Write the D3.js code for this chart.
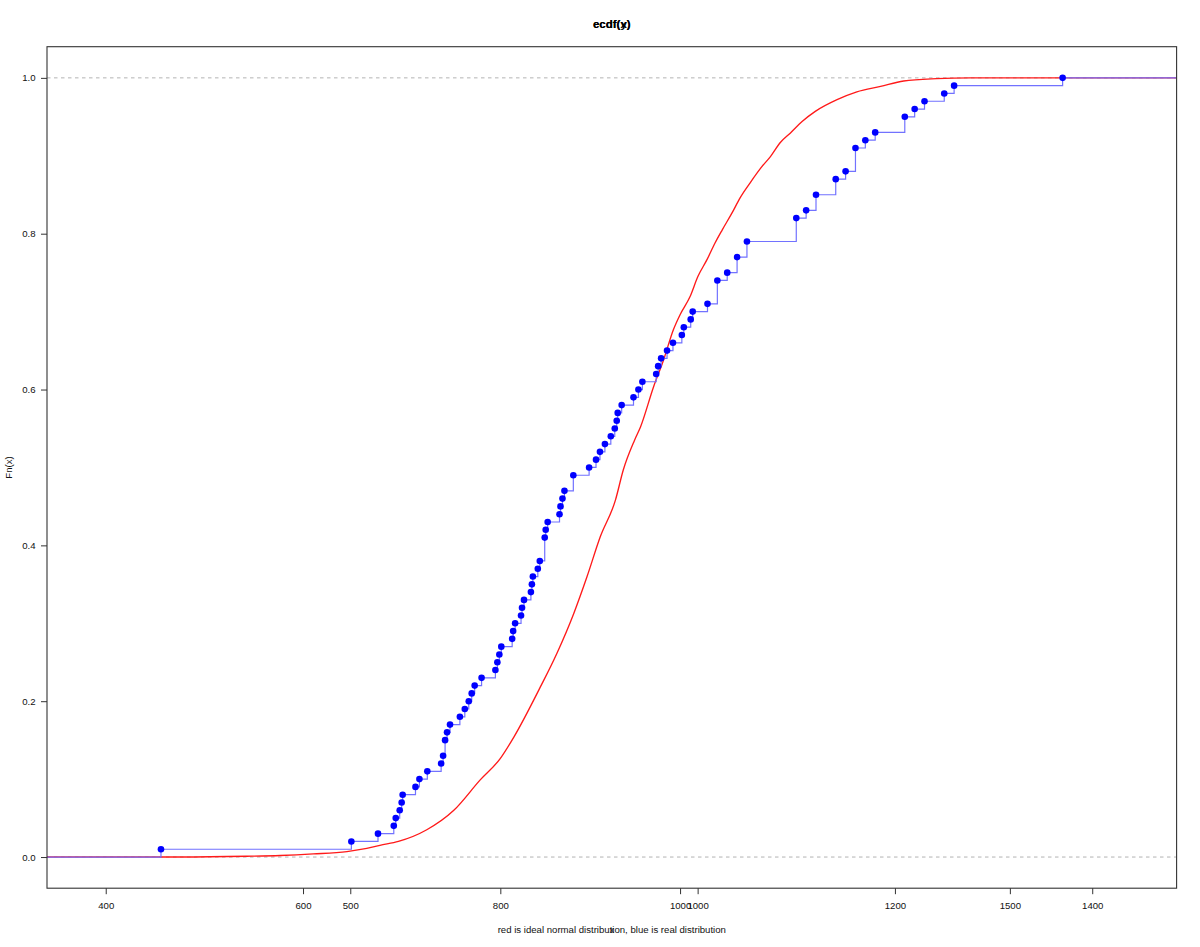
<!DOCTYPE html>
<html>
<head>
<meta charset="utf-8">
<script src="https://cdn.jsdelivr.net/npm/d3@7"></script>
<style>
  html, body { margin: 0; padding: 0; background: #fff; }
  svg { display: block; font-family: "Liberation Sans", Arial, Helvetica, sans-serif; }
</style>
</head>
<body>
<svg id="chart" width="1200" height="947"></svg>
<script>
// ---- data ----
// real sample (blue ecdf), sorted, ties repeated
const blueSample = [456, 649, 676, 692, 694, 698, 700, 701, 714, 718,
  726, 740, 742, 744, 744, 746, 749, 759, 764, 768,
  771, 774, 781, 795, 797, 799, 801, 812, 813, 815,
  821, 822, 824, 831, 832, 833, 838, 840, 845, 845,
  845, 846, 848, 860, 861, 863, 865, 874, 874, 890,
  897, 901, 906, 912, 916, 918, 919, 923, 935, 940,
  944, 958, 960, 963, 969, 975, 984, 986, 993, 995,
  1010, 1020, 1020, 1020, 1030, 1040, 1040, 1050, 1050, 1100,
  1100, 1100, 1110, 1120, 1120, 1140, 1140, 1150, 1160, 1160,
  1160, 1170, 1180, 1210, 1210, 1220, 1230, 1250, 1260, 1370];

// ideal normal distribution ecdf (red), read as x / Fn(x) pairs
const redX = [213, 242, 343, 394, 444, 495, 525, 545, 573, 616,
  657, 697, 727, 748, 788, 813, 839, 859, 879, 902,
  914, 931, 940, 960, 975, 990, 1000, 1015, 1027, 1041,
  1053, 1064, 1079, 1091, 1106, 1124, 1137, 1152, 1167, 1185,
  1205, 1238, 1268, 1304, 1339, 1389, 1440, 1580];
const redP = [0, 0.000, 0.001, 0.002, 0.004, 0.007, 0.011, 0.015, 0.020, 0.035,
  0.060, 0.099, 0.126, 0.154, 0.218, 0.261, 0.313, 0.360, 0.411, 0.458,
  0.497, 0.535, 0.552, 0.604, 0.638, 0.677, 0.696, 0.719, 0.745, 0.767,
  0.788, 0.805, 0.827, 0.846, 0.865, 0.886, 0.899, 0.917, 0.929, 0.944,
  0.957, 0.972, 0.982, 0.989, 0.996, 0.999, 1.000, 1.000];

const blueTicks = [400, 600, 800, 1000, 1200, 1400];
const redTicks = [500, 1000, 1500];
const yTicks = [0, 0.2, 0.4, 0.6, 0.8, 1.0];

const titleTexts = ["ecdf(x)", "ecdf(y)"];
const xLabelTexts = ["x", "red is ideal normal distribution, blue is real distribution"];
const yLabelText = "Fn(x)";

// ---- layout ----
const W = 1200, H = 947;
const box = { left: 47, right: 1176.6, top: 46.7, bottom: 888.2 };
const fs = 9.6;

const svg = d3.select("#chart");

// R-like x range: range of knots +/- 8%, then 4% axis expansion
function rDomain(ext) {
  const d = ext[1] - ext[0];
  const dr = 0.08 * d;
  const lo = ext[0] - dr, hi = ext[1] + dr;
  const e = 0.04 * (hi - lo);
  return [lo - e, hi + e];
}

const xBlue = d3.scaleLinear().domain(rDomain(d3.extent(blueSample))).range([box.left, box.right]);
const xRed = d3.scaleLinear().domain(rDomain(d3.extent(redX))).range([box.left, box.right]);
const y = d3.scaleLinear().domain([-0.04, 1.04]).range([box.bottom, box.top]);

svg.append("defs").append("clipPath").attr("id", "clip")
  .append("rect").attr("x", box.left).attr("y", box.top)
  .attr("width", box.right - box.left).attr("height", box.bottom - box.top);

const plot = svg.append("g").attr("clip-path", "url(#clip)");

// dashed 0 / 1 lines
plot.selectAll("line.h01").data([0, 1]).join("line")
  .attr("class", "h01")
  .attr("x1", box.left).attr("x2", box.right)
  .attr("y1", d => y(d)).attr("y2", d => y(d))
  .attr("stroke", "#b3b3b3").attr("stroke-width", 1)
  .attr("stroke-dasharray", "3.5,3.5");

// red curve
const xr0 = xRed.domain()[0], xr1 = xRed.domain()[1];
const redPts = [[xr0, 0]].concat(redX.map((v, i) => [v, redP[i]])).concat([[xr1, 1]]);
plot.append("path")
  .datum(redPts)
  .attr("fill", "none")
  .attr("stroke", "#ff1a1a")
  .attr("stroke-width", 1.35)
  .attr("d", d3.line().curve(d3.curveMonotoneX).x(d => xRed(d[0])).y(d => y(d[1])));

// blue ecdf step function
const n = blueSample.length;
const knots = Array.from(new Set(blueSample));
const levels = knots.map(k => d3.bisectRight(blueSample, k) / n);
const xb0 = xBlue.domain()[0], xb1 = xBlue.domain()[1];
const stepPts = [[xb0, 0]];
knots.forEach((k, i) => {
  stepPts.push([k, i === 0 ? 0 : levels[i - 1]]);
  stepPts.push([k, levels[i]]);
});
stepPts.push([xb1, 1]);
plot.append("path")
  .datum(stepPts)
  .attr("fill", "none")
  .attr("stroke", "#7272ff")
  .attr("stroke-width", 1.2)
  .attr("d", d3.line().x(d => xBlue(d[0])).y(d => y(d[1])));

plot.selectAll("circle.pt").data(knots).join("circle")
  .attr("class", "pt")
  .attr("cx", d => xBlue(d))
  .attr("cy", (d, i) => y(levels[i]))
  .attr("r", 3.3)
  .attr("fill", "#0000ff");

// box
svg.append("rect")
  .attr("x", box.left).attr("y", box.top)
  .attr("width", box.right - box.left).attr("height", box.bottom - box.top)
  .attr("fill", "none").attr("stroke", "#333").attr("stroke-width", 1.1);

// axes
function styleAxis(g) {
  g.select(".domain").remove();
  g.selectAll(".tick line").attr("stroke", "#333");
  g.selectAll(".tick text").attr("fill", "#111").style("font-size", fs + "px")
    .style("font-family", "'Liberation Sans', Arial, Helvetica, sans-serif");
}

svg.append("g").attr("transform", `translate(0,${box.bottom})`)
  .call(d3.axisBottom(xRed).tickValues(redTicks).tickFormat(d3.format("d")).tickSize(6).tickPadding(8))
  .call(styleAxis);
svg.append("g").attr("transform", `translate(0,${box.bottom})`)
  .call(d3.axisBottom(xBlue).tickValues(blueTicks).tickFormat(d3.format("d")).tickSize(6).tickPadding(8))
  .call(styleAxis);
svg.append("g").attr("transform", `translate(${box.left},0)`)
  .call(d3.axisLeft(y).tickValues(yTicks).tickFormat(d3.format(".1f")).tickSize(6).tickPadding(5.5))
  .call(styleAxis);

const cx = (box.left + box.right) / 2;

// titles (overlapping, as in the original)
svg.selectAll("text.title").data(titleTexts).join("text")
  .attr("class", "title")
  .attr("x", cx).attr("y", 28)
  .attr("text-anchor", "middle")
  .style("font-size", "11.5px").style("font-weight", "bold")
  .attr("fill", "#000")
  .text(d => d);

svg.selectAll("text.xlab").data(xLabelTexts).join("text")
  .attr("class", "xlab")
  .attr("x", cx).attr("y", 932.5)
  .attr("text-anchor", "middle")
  .style("font-size", fs + "px")
  .attr("fill", "#111")
  .text(d => d);

svg.append("text")
  .attr("transform", `translate(11.5,${(box.top + box.bottom) / 2}) rotate(-90)`)
  .attr("text-anchor", "middle")
  .style("font-size", fs + "px")
  .attr("fill", "#111")
  .text(yLabelText);
</script>
</body>
</html>
